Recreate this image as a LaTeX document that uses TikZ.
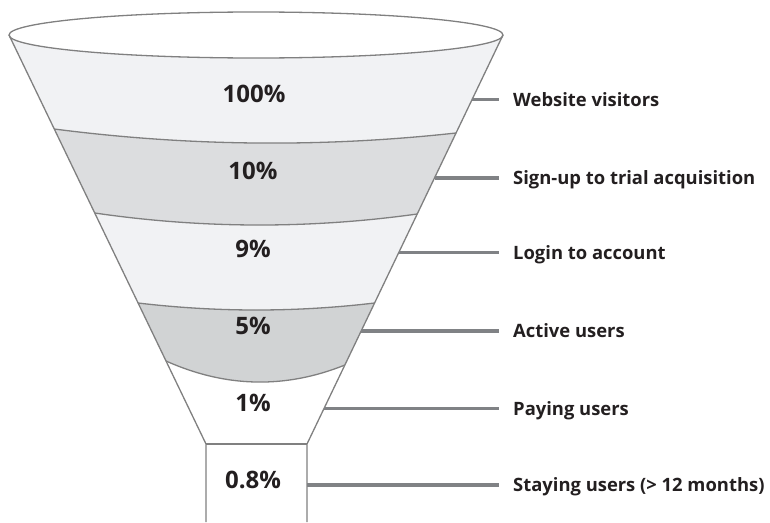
\documentclass[tikz,border=0pt]{standalone}
\usepackage{fontspec}
\setmainfont{Open Sans}
\definecolor{lite}{HTML}{F1F2F4}
\definecolor{darkA}{HTML}{DCDDDF}
\definecolor{darkB}{HTML}{D1D3D4}
\definecolor{edge}{HTML}{808080}
\definecolor{conncol}{HTML}{808285}
\definecolor{ink}{HTML}{231F20}
\begin{document}
\begin{tikzpicture}[x=1pt,y=-1pt,
  outline/.style={draw=edge,line width=1.3pt},
  conn/.style={draw=conncol,line width=3.6pt},
  pct/.style={font=\fontsize{24}{24}\selectfont\bfseries,text=ink,anchor=base,inner sep=0pt},
  lbl/.style={font=\fontsize{18.4}{18.4}\selectfont\bfseries,text=ink,anchor=west,inner xsep=0pt,inner ysep=0pt,text height=13.4pt,text depth=0pt}]
\useasboundingbox (0,0) rectangle (770,522);
% key points
\coordinate (TL) at (9,35);
\coordinate (TR) at (503,35);
\coordinate (BL) at (206,444);
\coordinate (BR) at (307,444);
\coordinate (A1) at (54.3,129);  \coordinate (C1) at (456.0,133);
\coordinate (A2) at (94.7,213);  \coordinate (C2) at (417.2,214);
\coordinate (A3) at (138.1,303); \coordinate (C3) at (374.6,303);
\coordinate (A4) at (166.0,361); \coordinate (C4) at (344.9,365);
% base fill
\fill[lite] (TL) -- (BL) -- (BR) -- (TR) -- cycle;
% band 2
\fill[darkA] (A1) .. controls (188.2,146.33) and (322.1,147.67) .. (C1)
  -- (C2) .. controls (309.7,229.0) and (202.2,228.67) .. (A2) -- cycle;
% band 4
\fill[darkB] (A3) .. controls (216.9,312.33) and (295.8,312.33) .. (C3)
  -- (C4) .. controls (285.3,389.0) and (225.6,387.67) .. (A4) -- cycle;
% band 5
\fill[white] (A4) .. controls (225.6,387.67) and (285.3,389.0) .. (C4)
  -- (BR) -- (BL) -- cycle;
% top ellipse
\draw[outline,fill=white] (256,35) ellipse [x radius=247, y radius=23];
% sides
\draw[outline] (TL) -- (BL) -- (206,522);
\draw[outline] (TR) -- (BR) -- (307,522);
\draw[outline] (BL) -- (BR);
% boundaries
\draw[outline] (A1) .. controls (188.2,146.33) and (322.1,147.67) .. (C1);
\draw[outline] (A2) .. controls (202.2,228.67) and (309.7,229.0) .. (C2);
\draw[outline] (A3) .. controls (216.9,312.33) and (295.8,312.33) .. (C3);
\draw[outline] (A4) .. controls (225.6,387.67) and (285.3,389.0) .. (C4);
% percentages
\node[pct] (p1) at (254,102) {100\%};
\node[pct] (p2) at (253,179) {10\%};
\node[pct] (p3) at (253,257) {9\%};
\node[pct] (p4) at (253,334) {5\%};
\node[pct] (p5) at (253,411) {1\%};
\node[pct] (p6) at (253,488) {0.8\%};
% connector starts
\coordinate (s1) at (471.9,99.5);
\coordinate (s2) at (434.5,177.7);
\coordinate (s3) at (399.0,252.3);
\coordinate (s4) at (361.2,331);
\coordinate (s5) at (324.3,408.3);
\coordinate (s6) at (307,485);
% labels
\node[lbl] (l1) at (513,99.5) {Website visitors};
\node[lbl] (l2) at (513,177.7) {Sign-up to trial acquisition};
\node[lbl] (l3) at (513,252.3) {Login to account};
\node[lbl] (l4) at (513,331) {Active users};
\node[lbl] (l5) at (513,408.3) {Paying users};
\node[lbl] (l6) at (513,485) {Staying users (> 12 months)};
\foreach \i in {1,...,6}{
  \draw[conn] (s\i) -- ([xshift=-14pt]l\i.west);
}
\end{tikzpicture}
\end{document}
